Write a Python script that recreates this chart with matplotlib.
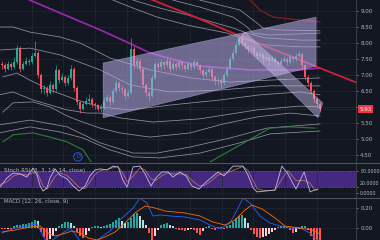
import matplotlib
matplotlib.use("Agg")
import matplotlib.pyplot as plt
from matplotlib.lines import Line2D
from matplotlib.patches import Polygon
from matplotlib.ticker import FuncFormatter

# ---- candles (one per bar index) ----
closes = [7.30, 7.20, 7.35, 7.25, 7.40, 7.85, 7.20, 7.35, 7.45, 7.40,
          7.60, 7.70, 7.00, 6.55, 6.60, 6.45, 6.70, 6.55, 7.15, 6.85,
          6.95, 6.75, 6.90, 7.20, 6.60, 6.15, 5.95, 6.10, 6.20, 6.25,
          6.10, 6.05, 5.95, 6.00, 6.20, 6.30, 6.15, 6.50, 6.75, 6.60,
          6.55, 6.35, 6.45, 7.80, 7.30, 7.45, 7.20, 6.70, 6.45, 6.35,
          6.90, 7.35, 7.25, 7.40, 7.30, 7.45, 7.20, 7.35, 7.25, 7.40,
          7.30, 7.20, 7.35, 7.25, 7.40, 7.30, 7.15, 7.00, 7.10, 7.20,
          6.95, 6.80, 6.85, 6.75, 7.00, 7.20, 7.50, 7.70, 7.95, 8.15,
          8.00, 7.90, 7.80, 7.85, 7.70, 7.60, 7.65, 7.50, 7.55, 7.45,
          7.50, 7.40, 7.35, 7.45, 7.50, 7.40, 7.55, 7.50, 7.60, 7.65,
          7.30, 6.95, 6.75, 6.50, 6.25, 6.10, 5.93]
highs = [7.45, 7.38, 7.45, 7.40, 7.55, 7.95, 7.90, 7.45, 7.55, 7.50,
         7.70, 8.05, 7.75, 7.05, 6.70, 6.65, 6.80, 6.75, 7.30, 7.20,
         7.05, 7.00, 7.00, 7.30, 7.25, 6.65, 6.20, 6.20, 6.30, 6.40,
         6.30, 6.15, 6.10, 6.10, 6.30, 6.40, 6.35, 6.60, 6.85, 6.80,
         6.70, 6.60, 6.55, 8.15, 7.90, 7.55, 7.50, 7.25, 6.75, 6.50,
         7.00, 7.45, 7.40, 7.50, 7.45, 7.55, 7.50, 7.45, 7.40, 7.50,
         7.45, 7.35, 7.45, 7.40, 7.50, 7.45, 7.35, 7.20, 7.20, 7.30,
         7.25, 7.00, 6.95, 6.90, 7.10, 7.30, 7.60, 7.80, 8.05, 8.25,
         8.30, 8.05, 7.95, 7.95, 7.90, 7.75, 7.75, 7.70, 7.65, 7.60,
         7.60, 7.55, 7.45, 7.55, 7.60, 7.55, 7.65, 7.60, 7.70, 7.75,
         7.70, 7.35, 7.00, 6.80, 6.55, 6.30, 6.15]
lows = [7.20, 7.10, 7.15, 7.15, 7.20, 7.35, 7.10, 7.15, 7.30, 7.30,
        7.35, 7.55, 6.90, 6.45, 6.40, 6.35, 6.40, 6.45, 6.50, 6.75,
        6.80, 6.65, 6.70, 6.85, 6.50, 6.05, 5.80, 5.90, 6.05, 6.10,
        6.00, 5.95, 5.88, 5.85, 5.95, 6.15, 6.05, 6.10, 6.45, 6.50,
        6.45, 6.25, 6.30, 6.40, 7.20, 7.20, 7.10, 6.60, 6.35, 6.20,
        6.30, 6.85, 7.15, 7.20, 7.20, 7.25, 7.10, 7.15, 7.15, 7.20,
        7.20, 7.10, 7.15, 7.15, 7.20, 7.20, 7.05, 6.90, 6.95, 7.05,
        6.85, 6.70, 6.70, 6.60, 6.70, 6.95, 7.15, 7.45, 7.65, 7.90,
        7.90, 7.80, 7.70, 7.75, 7.60, 7.50, 7.55, 7.40, 7.45, 7.35,
        7.40, 7.30, 7.25, 7.30, 7.40, 7.30, 7.35, 7.40, 7.45, 7.55,
        7.20, 6.85, 6.65, 6.40, 6.15, 6.00, 5.85]
first_open = 7.35
last_price = 5.93

# ---- overlay lines, (bar index, price) ----
purple_ma = [(-1, 9.80), (9.3, 9.34), (19.3, 8.94), (32.7, 8.41), (43.7, 7.94), (49.3, 7.69),
             (57.7, 7.47), (66, 7.28), (82.7, 7.16), (99.3, 7.16), (106, 7.22)]
red_ma = [(42.7, 9.66), (50.3, 9.34), (62.7, 8.88), (77, 8.31), (91, 7.78), (104.3, 7.28), (117.7, 6.78)]
dark_red_ma = [(80, 9.60), (82.7, 9.34), (86, 9.03), (90.3, 8.81), (99.3, 8.72), (106, 8.66)]

env_g0 = [(-1, 7.78), (9.3, 7.84), (19.3, 7.63), (32.7, 7.16), (42.7, 6.69), (56, 6.47),
          (72.7, 6.53), (89.3, 6.66), (106, 6.66)]
env_g1 = [(-1, 8.50), (3.7, 8.50), (9.3, 8.34), (19.3, 8.19), (26, 8.00), (32.7, 7.69), (36, 7.53),
          (49.3, 7.16), (62.7, 6.91), (76, 6.78), (89.3, 6.84), (106, 6.91)]
env_g2 = [(33, 9.60), (37, 9.34), (43.7, 9.09), (51.7, 8.81), (61.7, 8.56), (75, 8.31), (81.7, 8.09),
          (87.7, 7.94), (99.3, 7.88), (106, 7.88)]
env_g3 = [(40, 9.60), (43.7, 9.34), (52.7, 9.09), (61.7, 8.88), (77, 8.47), (81.7, 8.31), (87.7, 8.16),
          (99.3, 8.09), (106, 8.09)]
env_g4 = [(52, 9.60), (57, 9.34), (66, 9.12), (77, 8.81), (81.7, 8.50), (83.7, 8.31), (89.3, 8.25),
          (106, 8.31)]
env_g5 = [(62, 9.60), (66, 9.34), (79.3, 9.03), (83.7, 8.72), (87, 8.47), (91.7, 8.41), (106, 8.38)]
env_m1 = [(0.3, 6.94), (5, 7.06), (9.3, 6.84), (16, 6.53), (25, 6.22), (32.7, 6.00), (42.7, 5.91),
          (56, 6.06), (72.7, 6.22), (86, 6.38), (99.3, 6.47), (106, 6.38)]
env_lc = [(-1, 6.38), (3.7, 6.47), (10.3, 6.22), (21.7, 5.91), (28.3, 5.81), (32.7, 5.81), (39.3, 5.66),
          (50.3, 5.53), (66, 5.63), (85, 5.91), (99.3, 6.03), (106, 6.00)]
env_la = [(0.3, 5.84), (3.7, 6.13), (10.3, 6.16), (16, 6.00), (21.7, 5.72), (26, 5.56), (32.7, 5.34),
          (39.3, 5.19), (49.3, 5.06), (62.7, 5.19), (73.7, 5.47), (85, 5.69), (96, 5.81), (106, 5.72)]
env_lb = [(-1, 5.44), (9.3, 5.59), (21.7, 5.38), (32.7, 4.88), (43.7, 4.56), (51.7, 4.56), (62.7, 4.75),
          (76, 5.03), (88.3, 5.34), (106, 5.47)]
env_ld = [(-1, 5.19), (9.3, 5.38), (19.3, 5.22), (27, 5.03), (36, 4.66), (43.7, 4.44), (52.7, 4.41),
          (66, 4.56), (79.3, 4.88), (89.3, 5.16), (106, 5.25)]
green_line = [(0.3, 4.91), (3.7, 5.13), (10.3, 5.19), (16, 5.06), (21.7, 4.91), (27, 4.66), (29.3, 4.34),
              (31, 4.10), (45, 3.60), (60, 3.60), (66, 4.00), (68.7, 4.25), (79.3, 4.81), (89.3, 5.34),
              (96, 5.38), (104.3, 5.34)]

# drawings
rising_channel = [(33.7, 7.375), (104.7, 8.81), (104.7, 7.28), (33.7, 5.66)]
falling_wedge = [(78.7, 8.09), (81, 8.34), (107, 6.125), (105.3, 5.66)]
marker_d = (25.3, 4.44)

# ---- Stoch RSI ----
stoch_idx = [-0.7, 1.7, 3.7, 6, 8.3, 10.3, 11.7, 12.7, 13.7, 15,
             16, 17.7, 19.3, 21.7, 23.7, 25.7, 27.7, 29.3, 31, 32.7,
             35, 37, 38.7, 40.3, 41.7, 43.7, 46, 47.7, 49.7, 51.3,
             53.3, 55.3, 57, 59.3, 61.3, 63.3, 65.7, 67.7, 70, 72,
             74, 77, 80.3, 82, 83.7, 85, 87.7, 91, 93.3, 95.3,
             98, 100.7, 102.7, 104.3, 105.3]
stoch_k = [21, 54, 71, 68, 57, 89, 64, 25, 7, 18,
           54, 86, 64, 50, 25, 7, 25, 61, 82, 86,
           82, 96, 93, 46, 21, 93, 96, 68, 25, 54,
           75, 75, 57, 75, 61, 25, 14, 36, 57, 75,
           61, 96, 96, 64, 18, 4, 7, 11, 96, 68,
           14, 75, 4, 11, 14]
stoch_d = [30, 40, 60, 68, 64, 72, 72, 50, 25, 14,
           30, 60, 72, 62, 42, 20, 16, 40, 66, 80,
           84, 90, 94, 70, 40, 60, 90, 82, 50, 45,
           62, 72, 68, 68, 66, 45, 25, 28, 45, 65,
           68, 80, 95, 80, 45, 15, 8, 9, 50, 80,
           45, 45, 35, 10, 12]

# ---- MACD ----
macd_hist = [-0.01, -0.01, -0.005, -0.01, 0.02, 0.03, 0.03, 0.04, 0.04, 0.05,
             0.06, 0.08, 0.07, -0.04, -0.09, -0.12, -0.11, -0.08, -0.03, 0.02,
             0.04, 0.06, 0.06, 0.05, 0.02, -0.04, -0.08, -0.10, -0.07, -0.03,
             0.01, 0.02, 0.02, 0.01, 0.02, 0.03, 0.04, 0.06, 0.08, 0.10,
             0.07, 0.05, 0.06, 0.10, 0.14, 0.15, 0.12, 0.08, 0.03, -0.05,
             -0.12, -0.08, -0.02, 0.03, 0.04, 0.05, 0.03, 0.02, -0.01, -0.02,
             -0.02, -0.03, -0.02, -0.01, -0.02, -0.05, -0.07, -0.03, 0.01, 0.02,
             -0.01, -0.02, 0.01, 0.01, -0.01, 0.02, 0.03, 0.06, 0.10, 0.12,
             0.13, 0.10, 0.05, -0.02, -0.06, -0.09, -0.10, -0.09, -0.08, -0.06,
             -0.04, -0.02, 0.01, 0.02, 0.02, 0.01, -0.02, -0.05, -0.04, -0.01,
             0.02, 0.02, -0.02, -0.08, -0.13, -0.15, -0.15]
macd_idx = [0, 4.3, 9.3, 11.7, 13.7, 15.3, 17.7, 20.3, 22.7, 25.3, 27.7, 30.3, 32.7, 36, 39.3,
            43.7, 46, 48.3, 50.3, 52.7, 56, 61, 66, 69.3, 72.7, 76, 78.7, 80.3, 82.7, 86,
            89.3, 92.7, 96, 99.3, 102.7, 106]
macd_line = [-0.05, 0.0, 0.03, 0.04, -0.08, -0.16, -0.10, -0.05, 0.0, -0.10, -0.20, -0.16, -0.10, -0.03, 0.08,
             0.20, 0.30, 0.25, 0.12, 0.13, 0.12, 0.11, 0.08, 0.03, -0.01, 0.05, 0.20, 0.30, 0.25, 0.12,
             0.05, 0.02, 0.0, 0.0, -0.05, -0.15]
signal_idx = [0, 4.3, 9.3, 12.7, 15.3, 17.7, 20.3, 23.3, 26, 28.7, 31.7, 34.3, 37.7, 41, 44.3,
              47.7, 51, 54.3, 61, 66, 70.3, 74.3, 77.7, 81, 83.3, 86.7, 91, 94.3, 99.3, 103.3, 106]
signal_line = [-0.04, -0.02, 0.01, 0.02, -0.05, -0.08, -0.06, -0.03, -0.05, -0.10, -0.12, -0.09, -0.04, 0.05, 0.15,
               0.22, 0.20, 0.17, 0.15, 0.12, 0.06, 0.03, 0.08, 0.18, 0.23, 0.19, 0.10, 0.02, 0.0, -0.02, -0.06]

price_ticks = [4.5, 5.0, 5.5, 6.0, 6.5, 7.0, 7.5, 8.0, 8.5, 9.0]
grid_x = [9.9, 20.4, 31, 41.6, 52.1, 62.7, 73.2, 83.8, 94.3, 104.9]

BG = "#131722"
GRID = "#242733"
TXT = "#b2b5be"
UP = "#22ab94"
DOWN = "#f7525f"
XLIM = (-0.67, 118)


def style_axis(ax, label_size=4):
    ax.set_facecolor(BG)
    ax.set_xlim(*XLIM)
    for side in ("top", "left", "bottom"):
        ax.spines[side].set_visible(False)
    ax.spines["right"].set_color("#434651")
    ax.spines["right"].set_linewidth(0.6)
    ax.set_xticks(grid_x)
    ax.tick_params(axis="x", length=0, labelbottom=False)
    ax.yaxis.tick_right()
    ax.tick_params(axis="y", labelsize=label_size, colors=TXT, length=1.5, width=0.4, pad=1.5)
    ax.grid(True, color=GRID, lw=0.5)
    ax.set_axisbelow(True)


def polyline(ax, pts, **kw):
    xs, ys = zip(*pts)
    ax.plot(xs, ys, **kw)


fig = plt.figure(figsize=(3.8, 2.4), dpi=100, facecolor=BG)

# ---------- main price panel ----------
ax = fig.add_axes([0, 0.325, 0.9368, 0.675])
style_axis(ax)
ax.set_ylim(4.281, 9.344)
ax.set_yticks(price_ticks)
ax.yaxis.set_major_formatter(FuncFormatter(lambda v, _: "" if abs(v - 6.0) < 1e-6 else f"{v:.2f}"))

for env in (env_g0, env_g1, env_g2, env_g3, env_g4, env_g5, env_m1, env_lc, env_la, env_lb, env_ld):
    polyline(ax, env, color="#c5c7cf", lw=0.55, alpha=0.7, zorder=1)
polyline(ax, green_line, color="#2f7d3a", lw=0.8, zorder=1)
polyline(ax, purple_ma, color="#9c27b0", lw=1.2, zorder=1)
polyline(ax, red_ma, color="#d11f3a", lw=1.3, zorder=1)
polyline(ax, dark_red_ma, color="#7a1d22", lw=1.0, zorder=1)

idx = list(range(len(closes)))
opens = [first_open] + closes[:-1]
colors = [UP if c >= o else DOWN for o, c in zip(opens, closes)]
ax.vlines(idx, lows, highs, colors=colors, lw=0.5, zorder=2)
bodies = [max(abs(c - o), 0.02) for o, c in zip(opens, closes)]
ax.bar(idx, bodies, bottom=[min(o, c) for o, c in zip(opens, closes)],
       width=0.55, color=colors, zorder=2)

# channel drawings, semi-transparent over the candles
ax.add_patch(Polygon(rising_channel, closed=True, fc="#b9abe6", ec="#cfc4f5",
                     lw=0.4, alpha=0.55, zorder=3))
ax.add_patch(Polygon(falling_wedge, closed=True, fc="#cbc0ee", ec="#ddd5fb",
                     lw=0.4, alpha=0.45, zorder=3))

ax.axhline(last_price, color="#f23645", lw=0.5, ls=(0, (1, 1.5)), alpha=0.6, zorder=2)
ax.annotate(f"{last_price:.2f}", xy=(1, last_price), xycoords=("axes fraction", "data"),
            xytext=(2.5, 0), textcoords="offset points", va="center", ha="left",
            fontsize=4, color="white",
            bbox=dict(boxstyle="square,pad=0.25", fc="#f23645", ec="none"),
            annotation_clip=False)

ax.text(*marker_d, "D", fontsize=3.5, color="#2962ff", ha="center", va="center", zorder=4,
        bbox=dict(boxstyle="circle,pad=0.35", fc="none", ec="#2962ff", lw=0.6))

# ---------- Stoch RSI panel ----------
ax_st = fig.add_axes([0, 0.1792, 0.9368, 0.1417])
style_axis(ax_st, label_size=3.4)
ax_st.set_ylim(-14.3, 107.1)
ax_st.set_yticks([0, 20, 80])
ax_st.set_yticklabels(["0.0000", "", "80.0000"])
ax_st.annotate("20.0000", xy=(1, 20), xycoords=("axes fraction", "data"),
               xytext=(2.6, 3), textcoords="offset points", va="center", ha="left",
               fontsize=3.4, color=TXT, annotation_clip=False)
ax_st.axhspan(20, 80, color="#4b2a8a", alpha=0.9, lw=0, zorder=0.5)
ax_st.axhline(80, color="#787b86", lw=0.4, ls=(0, (3, 2)), zorder=1)
ax_st.axhline(20, color="#787b86", lw=0.4, ls=(0, (3, 2)), zorder=1)
ax_st.plot(stoch_idx, stoch_d, color="#d8835f", lw=0.55, alpha=0.85, zorder=2)
ax_st.plot(stoch_idx, stoch_k, color="#b9b1e0", lw=0.65, zorder=3)
ax_st.text(0.012, 0.79, "Stoch RSI (3, 3, 14, 14, close)", transform=ax_st.transAxes,
           fontsize=4, color=TXT, va="center", ha="left")

# ---------- MACD panel ----------
ax_m = fig.add_axes([0, 0, 0.9368, 0.175])
style_axis(ax_m)
ax_m.set_ylim(-0.12, 0.30)
ax_m.set_yticks([0.0, 0.2])
ax_m.set_yticklabels(["0.00", "0.20"])

hist_colors = []
for i, v in enumerate(macd_hist):
    prev = macd_hist[i - 1] if i > 0 else 0
    if v >= 0:
        hist_colors.append("#26a69a" if v >= prev else "#b2dfdb")
    else:
        hist_colors.append("#ff5252" if v <= prev else "#ffcdd2")
ax_m.bar(idx, macd_hist, width=0.9, color=hist_colors, zorder=2)
ax_m.plot(macd_idx, macd_line, color="#2962ff", lw=0.6, zorder=3)
ax_m.plot(signal_idx, signal_line, color="#ff6d00", lw=0.6, zorder=3)
ax_m.text(0.012, 0.905, "MACD (12, 26, close, 9)", transform=ax_m.transAxes,
          fontsize=4, color=TXT, va="center", ha="left")

# panel separators
for yf in (1 - 162.5 / 240, 1 - 197.5 / 240):
    fig.add_artist(Line2D([0, 1], [yf, yf], transform=fig.transFigure, color="#50535e", lw=0.8))

fig.savefig("out.png", dpi=100, facecolor=BG)
